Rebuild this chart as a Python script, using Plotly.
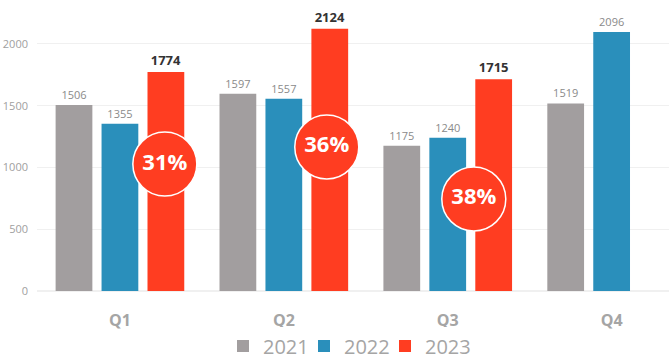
import plotly.graph_objects as go

quarters = ["Q1", "Q2", "Q3", "Q4"]
years = ["2021", "2022", "2023"]
v2021 = [1506, 1597, 1175, 1519]
v2022 = [1355, 1557, 1240, 2096]
v2023 = [1774, 2124, 1715, None]
growth_labels = ["31%", "36%", "38%"]
# badge placement (x offset from category centre, y in data units)
badge_dx = [0.274, 0.262, 0.159]
badge_y = [1028, 1166, 745]

colors = {"2021": "#a29e9f", "2022": "#2a8fbb", "2023": "#ff3d21"}
xs = list(range(len(quarters)))

fig = go.Figure()
for name, vals in zip(years, [v2021, v2022, v2023]):
    bold = name == "2023"
    fig.add_trace(go.Bar(
        x=xs, y=vals, name=name,
        marker=dict(color=colors[name], line=dict(width=0)),
        text=[("" if v is None else str(v)) for v in vals],
        textposition="outside",
        textfont=dict(family="Open Sans", size=13 if bold else 11,
                      color="#333333" if bold else "#8a8a8a",
                      weight="bold" if bold else "normal"),
        cliponaxis=False,
    ))

# invisible spacer legend entry so the last legend label is not clipped
fig.add_trace(go.Scatter(
    x=[None], y=[None], name=" ", mode="markers", showlegend=True,
    hoverinfo="skip", marker=dict(color="rgba(0,0,0,0)", opacity=0),
))

fig.add_trace(go.Scatter(
    x=[i + d for i, d in zip(xs, badge_dx)], y=badge_y,
    mode="markers+text", text=growth_labels, textposition="middle center",
    marker=dict(size=64, color="#ff3d21", line=dict(color="white", width=1.5)),
    textfont=dict(family="Open Sans", size=22, color="white", weight="bold"),
    showlegend=False, hoverinfo="skip", cliponaxis=False,
))

fig.update_layout(
    width=669, height=360,
    margin=dict(l=37, r=0, t=0, b=69),
    paper_bgcolor="white", plot_bgcolor="white",
    barmode="group", bargap=0.159, bargroupgap=0.2,
    font=dict(family="Open Sans", color="#999999"),
    xaxis=dict(
        range=[-0.506, 3.35], tickmode="array", tickvals=xs, ticktext=quarters,
        showgrid=False, zeroline=False, showline=False, ticks="",
        tickfont=dict(size=16, color="#a5a5a5", weight="bold"),
        ticklabelstandoff=18, automargin=False,
    ),
    yaxis=dict(
        range=[0, 2356], tickvals=[0, 500, 1000, 1500, 2000],
        showgrid=True, gridcolor="#f0f0f0", gridwidth=1,
        zeroline=True, zerolinecolor="#f0f0f0", showline=False, ticks="",
        tickfont=dict(size=11, color="#a0a0a0"),
        ticklabelstandoff=8, automargin=False,
    ),
    legend=dict(
        orientation="h", x=0.5 + 32 / 632, xanchor="center",
        yref="container", y=1 - 346 / 360, yanchor="middle",
        font=dict(size=20, color="#a5a5a5"), traceorder="normal",
        entrywidth=36, entrywidthmode="pixels",
    ),
    showlegend=True,
)

fig.write_html(
    "out.html",
    config={"displayModeBar": False},
    post_script="document.body.style.margin='0';document.body.style.overflow='hidden';",
)
